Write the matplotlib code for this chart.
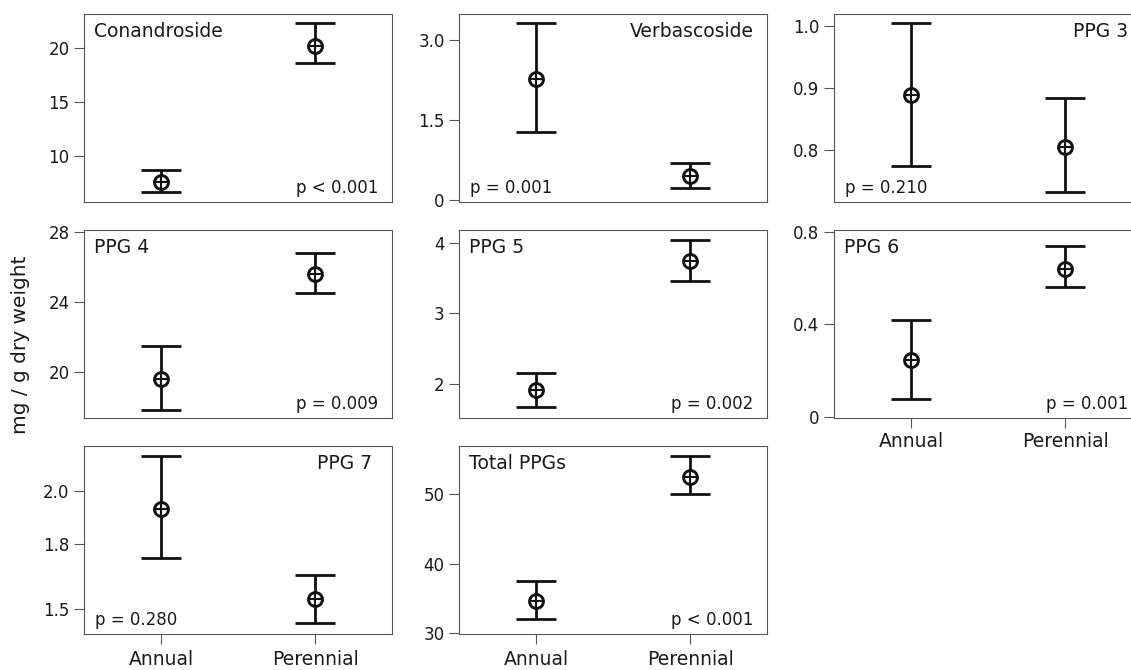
import numpy as np
import matplotlib
matplotlib.use("Agg")
import matplotlib.pyplot as plt

plt.rcParams['font.family'] = ['DejaVu Sans']

# ---------------- data ----------------
compounds = ["Conandroside", "Verbascoside", "PPG 3", "PPG 4", "PPG 5",
             "PPG 6", "PPG 7", "Total PPGs"]
groups = ["Annual", "Perennial"]
p_values = ["p < 0.001", "p = 0.001", "p = 0.210", "p = 0.009",
            "p = 0.002", "p = 0.001", "p = 0.280", "p < 0.001"]

annual_mean  = [7.58, 2.27, 0.888, 19.58, 1.905, 0.246, 1.936, 34.54]
annual_low   = [6.62, 1.27, 0.773, 17.81, 1.665, 0.077, 1.743, 32.03]
annual_high  = [8.64, 3.325, 1.005, 21.47, 2.15, 0.417, 2.117, 37.54]
perenn_mean  = [20.24, 0.456, 0.804, 25.56, 3.74, 0.640, 1.554, 52.55]
perenn_low   = [18.66, 0.23, 0.731, 24.51, 3.45, 0.561, 1.420, 50.0]
perenn_high  = [22.38, 0.70, 0.883, 26.8, 4.04, 0.738, 1.668, 55.55]

ytick_vals = [[10, 15, 20], [0, 1.5, 3.0], [0.8, 0.9, 1.0], [20, 24, 28],
              [2, 3, 4], [0, 0.4, 0.8], [1.5, 1.8, 2.0], [30, 40, 50]]
ytick_labels = [["10", "15", "20"], ["0", "1.5", "3.0"], ["0.8", "0.9", "1.0"],
                ["20", "24", "28"], ["2", "3", "4"], ["0", "0.4", "0.8"],
                ["1.5", "1.8", "2.0"], ["30", "40", "50"]]
ylims = [(5.69, 23.19), (-0.0375, 3.49), (0.715, 1.0195), (17.34, 28.1),
         (1.515, 4.18), (-0.004, 0.807), (1.358, 2.149), (29.86, 57.04)]
# power of the y-axis transform (PPG 7 uses a stretched axis)
y_power = [1, 1, 1, 1, 1, 1, 2.5, 1]

# ---------------- layout ----------------
W, H = 1131, 670
col_left = [84, 459.3, 834]
row_top = [14, 230, 445.7]
aw, ah = 308, 188
# (column, row) for each panel
cells = [(0, 0), (1, 0), (2, 0), (0, 1), (1, 1), (2, 1), (0, 2), (1, 2)]
label_side = ["L", "R", "R", "L", "L", "L", "R", "L"]
show_x = [False, False, False, False, False, True, True, True]

ink = "#111111"
spine_c = "#555555"

fig = plt.figure(figsize=(W / 100, H / 100), dpi=100)

for i, name in enumerate(compounds):
    c, r = cells[i]
    l, t = col_left[c], row_top[r]
    ax = fig.add_axes([l / W, 1 - (t + ah) / H, aw / W, ah / H])

    pw = y_power[i]
    if pw != 1:
        ax.set_yscale('function',
                      functions=(lambda v, p=pw: np.sign(v) * np.abs(v) ** p,
                                 lambda v, p=pw: np.sign(v) * np.abs(v) ** (1.0 / p)))

    means = np.array([annual_mean[i], perenn_mean[i]])
    lows = np.array([annual_low[i], perenn_low[i]])
    highs = np.array([annual_high[i], perenn_high[i]])
    xs = np.arange(len(groups))

    ax.errorbar(xs, means, yerr=[means - lows, highs - means], fmt='none',
                ecolor=ink, elinewidth=2.0, capsize=14.2, capthick=2.0, zorder=2)
    ax.plot(xs, means, 'o', ms=10.0, mfc='white', mec=ink, mew=2.1, zorder=3)
    ax.plot(xs, means, '+', ms=8.4, mew=1.5, color=ink, zorder=4)

    ax.set_xlim(-0.5, 1.5)
    ax.set_ylim(*ylims[i])
    ax.set_yticks(ytick_vals[i])
    ax.set_yticklabels(ytick_labels[i])
    ax.yaxis.set_minor_locator(matplotlib.ticker.NullLocator())

    for s in ax.spines.values():
        s.set_color(spine_c)
        s.set_linewidth(0.8)

    ax.tick_params(axis='y', direction='out', length=7, width=0.8,
                   color=spine_c, labelsize=12, pad=3.5, labelcolor='#1a1a1a')
    if show_x[i]:
        ax.set_xticks(xs)
        ax.set_xticklabels(groups)
        ax.tick_params(axis='x', direction='out', length=7, width=0.8,
                       color=spine_c, labelsize=13.5, pad=3 if r == 1 else 5,
                       labelcolor='#1a1a1a')
    else:
        ax.set_xticks([])

    if label_side[i] == "L":
        ax.text(0.032, 0.955, name, transform=ax.transAxes, ha='left', va='top',
                fontsize=13.5, color='#1a1a1a')
        ax.text(0.955, 0.025, p_values[i], transform=ax.transAxes, ha='right',
                va='bottom', fontsize=12, color='#1a1a1a')
    else:
        xr = 0.935 if i == 6 else 0.955
        ax.text(xr, 0.955, name, transform=ax.transAxes, ha='right', va='top',
                fontsize=13.5, color='#1a1a1a')
        ax.text(0.035, 0.025, p_values[i], transform=ax.transAxes, ha='left',
                va='bottom', fontsize=12, color='#1a1a1a')

fig.text(21 / W, 1 - 345 / H, "mg / g dry weight", rotation=90,
         ha='center', va='center', fontsize=14.5, color='#1a1a1a')

fig.savefig("out.png", dpi=100)
